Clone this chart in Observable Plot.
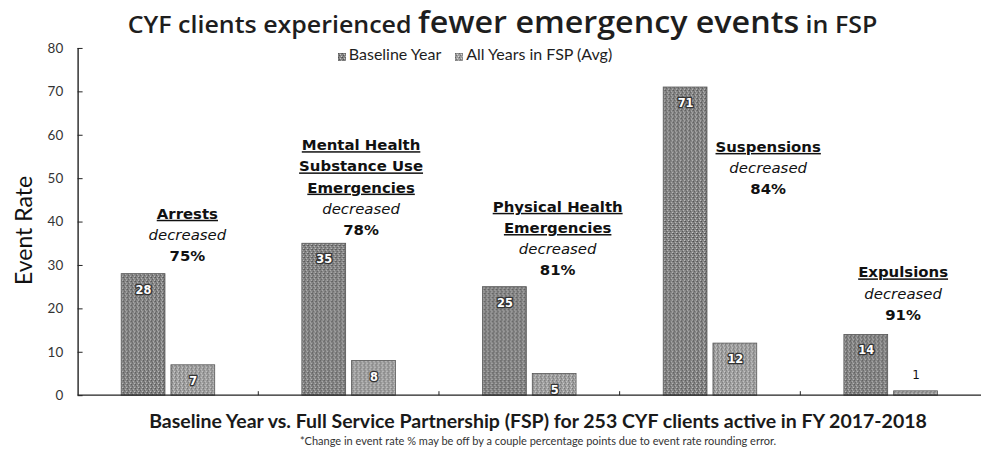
<!DOCTYPE html>
<html>
<head>
<meta charset="utf-8">
<script src="https://cdn.jsdelivr.net/npm/d3@7"></script>
<script src="https://cdn.jsdelivr.net/npm/@observablehq/plot@0.6"></script>
<style>
  html, body { margin: 0; padding: 0; background: #fff; overflow: hidden; }
  #wrap { position: relative; width: 981px; height: 451px; overflow: hidden; color: #222; }
  #title { position: absolute; top: 0; left: 24px; width: 957px; text-align: center; font-family: "Open Sans", sans-serif; font-weight: 600; line-height: 43px; white-space: nowrap; color: #1e1e1e; transform: scaleX(1.04); }
  #title .s { font-size: 24px; }
  #title .b { font-size: 31px; }
  #chart { position: absolute; top: 38px; left: 0; }
  #legend { position: absolute; top: 45px; left: 0; width: 950px; text-align: center; font-family: Lato, sans-serif; font-size: 16px; line-height: 17px; white-space: nowrap; color: #1e1e1e; }
  #legend .item { display: inline-block; margin: 0 7px; }
  #legend svg { vertical-align: -1px; margin-right: 3px; }
  #ylabel { position: absolute; left: 9px; top: 168px; width: 28px; height: 124px; line-height: 28px; text-align: center; writing-mode: vertical-rl; transform: rotate(180deg); font-family: Lato, sans-serif; font-size: 23px; color: #111; }
  #xlabel { position: absolute; top: 410px; left: 95px; width: 886px; text-align: center; font-family: Lato, sans-serif; font-weight: 700; font-size: 19.5px; line-height: 22px; white-space: nowrap; color: #1a1a1a; }
  #caption { position: absolute; top: 434px; left: 95px; width: 886px; text-align: center; font-family: Lato, sans-serif; font-size: 11px; line-height: 14px; white-space: nowrap; color: #333; }
</style>
</head>
<body>
<svg width="0" height="0" style="position:absolute">
  <defs>
    <pattern id="pBase" width="4" height="4" patternUnits="userSpaceOnUse">
      <rect width="4" height="4" fill="#858585"/>
      <rect x="0" y="0" width="1" height="1" fill="#4a4a4a"/>
      <rect x="2" y="1" width="1" height="1" fill="#c4c4c4"/>
      <rect x="1" y="2" width="1" height="1" fill="#555"/>
      <rect x="3" y="3" width="1" height="1" fill="#cfcfcf"/>
      <rect x="3" y="0" width="1" height="1" fill="#666"/>
    </pattern>
    <pattern id="pFsp" width="4" height="4" patternUnits="userSpaceOnUse">
      <rect width="4" height="4" fill="#9e9e9e"/>
      <rect x="0" y="0" width="1" height="1" fill="#646464"/>
      <rect x="2" y="1" width="1" height="1" fill="#d4d4d4"/>
      <rect x="1" y="2" width="1" height="1" fill="#727272"/>
      <rect x="3" y="3" width="1" height="1" fill="#dcdcdc"/>
    </pattern>
  </defs>
</svg>
<div id="wrap">
  <div id="title"><span class="s">CYF clients experienced </span><span class="b">fewer emergency events</span><span class="s"> in FSP</span></div>
  <div id="chart"></div>
  <div id="legend"></div>
  <div id="ylabel">Event Rate</div>
  <div id="xlabel">Baseline Year vs. Full Service Partnership (FSP) for 253 CYF clients active in FY 2017-2018</div>
  <div id="caption">*Change in event rate % may be off by a couple percentage points due to event rate rounding error.</div>
</div>
<script>
// ---- data ----
const categories = ["Arrests", "Mental Health Substance Use Emergencies", "Physical Health Emergencies", "Suspensions", "Expulsions"];
const nameLines = [["Arrests"], ["Mental Health", "Substance Use", "Emergencies"], ["Physical Health", "Emergencies"], ["Suspensions"], ["Expulsions"]];
const series = ["Baseline Year", "All Years in FSP (Avg)"];
const baseline = [28, 35, 25, 71, 14];
const fsp = [7, 8, 5, 12, 1];
const decreasePct = [75, 78, 81, 84, 91];
const yTicks = [0, 10, 20, 30, 40, 50, 60, 70, 80];

// ---- layout (annotation placement) ----
const annotY = [41.7, 57.5, 43.3, 57.1, 28.2];   // first line centre, in y units
const annotDx = [19, 12, 28, 58, 12];           // px offset from group centre
const fills = ["url(#pBase)", "url(#pFsp)"];

const rows = categories.flatMap((c, i) => [
  {cat: c, series: series[0], value: baseline[i]},
  {cat: c, series: series[1], value: fsp[i]}
]);

const W = 986, H = 372, mL = 78, mR = 0, mT = 10, mB = 13;
const fxPadInner = 0.4824, fxPadOuter = 0.2412;
const fxStep = (W - mL - mR) / (categories.length - fxPadInner + 2 * fxPadOuter);
const facetOffset = fxStep * fxPadInner / 2; // distance from frame edge to first facet
const annFont = {fontFamily: "DejaVu Sans", fontSize: 15, fill: "#111", lineHeight: 1.42, lineAnchor: "top", dy: -11};

const annotMarks = categories.flatMap((c, i) => {
  const d = [{cat: c, y: annotY[i]}];
  const n = nameLines[i].length;
  return [
    Plot.text(d, {fx: "cat", y: "y", text: () => nameLines[i].join("\n"), dx: annotDx[i], fontWeight: "bold", ...annFont}),
    Plot.text(d, {fx: "cat", y: "y", text: () => "\n".repeat(n) + "decreased", dx: annotDx[i], fontStyle: "italic", ...annFont}),
    Plot.text(d, {fx: "cat", y: "y", text: () => "\n".repeat(n + 1) + decreasePct[i] + "%", dx: annotDx[i], fontWeight: "bold", ...annFont})
  ];
});

const plot = Plot.plot({
  width: W, height: H,
  marginLeft: mL, marginRight: mR, marginTop: mT, marginBottom: mB,
  style: {fontFamily: "Lato, sans-serif", fontSize: "13px", color: "#222", background: "transparent", overflow: "visible"},
  fx: {domain: categories, paddingInner: fxPadInner, paddingOuter: fxPadOuter, round: false, axis: null, label: null},
  x: {domain: series, paddingInner: 0.12, paddingOuter: 0, round: false, axis: null, label: null},
  y: {domain: [0, 80], axis: null},
  color: {domain: series, range: fills},
  marks: [
    Plot.axisY(yTicks, {tickSize: -5, tickPadding: 20, dx: -facetOffset, fontSize: 13.5, fill: "#333", stroke: "#222", label: null}),
    Plot.barY(rows, {fx: "cat", x: "series", y: "value", fill: "series", stroke: "#555", strokeWidth: 0.8}),
    Plot.text(rows.filter(d => d.value >= 3), {fx: "cat", x: "series", y: "value", text: d => String(d.value), dy: 16,
      fill: "white", stroke: "#333", strokeWidth: 2.6, paintOrder: "stroke", fontWeight: "bold", fontFamily: "DejaVu Sans", fontSize: 11.5}),
    Plot.text(rows.filter(d => d.value < 3), {fx: "cat", x: "series", y: "value", text: d => String(d.value), dy: -16,
      fill: "#111", fontFamily: "DejaVu Sans", fontSize: 12}),
    ...annotMarks
  ]
});

// axis lines and group separators, placed through the plot's scales
const ys = plot.scale("y"), fxs = plot.scale("fx");
const svg = d3.select(plot);
const ax = svg.append("g").attr("stroke", "#222").attr("fill", "none");
ax.append("line").attr("x1", mL + 0.5).attr("x2", mL + 0.5).attr("y1", ys.apply(80)).attr("y2", ys.apply(0)).attr("stroke-width", 1.4);
ax.append("line").attr("x1", mL).attr("x2", fxs.range[1]).attr("y1", ys.apply(0)).attr("y2", ys.apply(0)).attr("stroke-width", 1.4);
categories.slice(1).forEach(c => {
  const xb = fxs.apply(c) - (fxs.step - fxs.bandwidth) / 2;
  ax.append("line").attr("x1", xb).attr("x2", xb).attr("y1", ys.apply(0)).attr("y2", ys.apply(0) - 4);
});
// underline the category names in the annotations
const nameSet = new Set(nameLines.flat());
svg.selectAll("text, tspan").filter(function () {
  return nameSet.has(this.textContent) && (this.tagName === "tspan" || this.querySelector("tspan") === null);
}).style("text-decoration", "underline");

document.getElementById("chart").appendChild(plot);

// legend
const leg = d3.select("#legend");
series.forEach((s, i) => {
  const it = leg.append("span").attr("class", "item");
  const sw = it.append("svg").attr("width", 8).attr("height", 8);
  sw.append("rect").attr("width", 8).attr("height", 8).attr("fill", fills[i]).attr("stroke", "#666").attr("stroke-width", 0.6);
  it.append("span").text(s);
});
</script>
</body>
</html>
